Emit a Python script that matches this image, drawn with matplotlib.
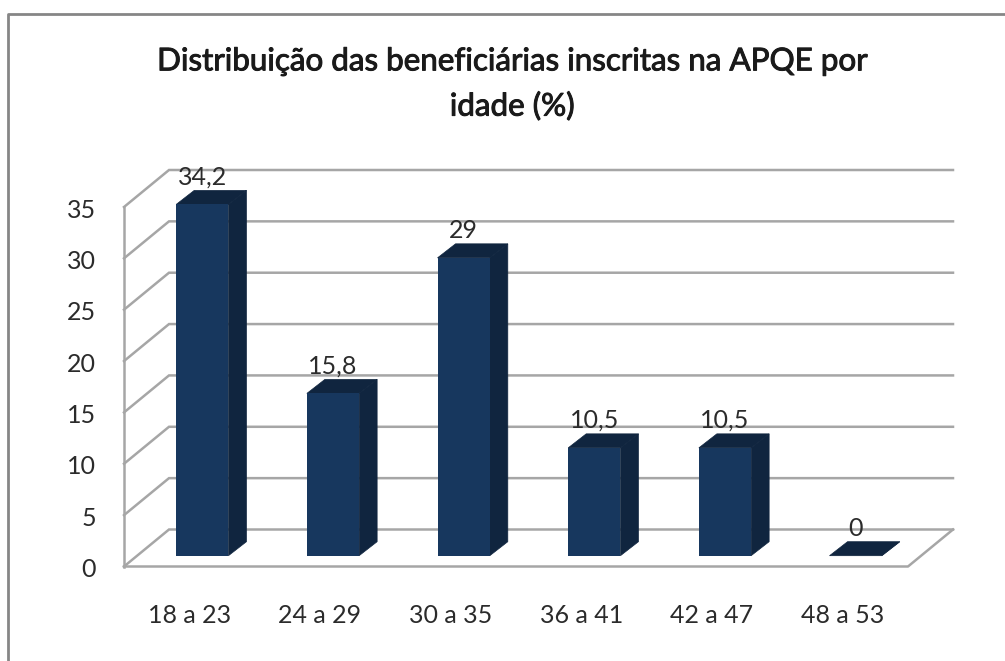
import matplotlib
matplotlib.use("Agg")
import matplotlib.pyplot as plt
import matplotlib.patheffects as pe
from matplotlib.patches import Polygon

# values
categories = ["18 a 23", "24 a 29", "30 a 35", "36 a 41", "42 a 47", "48 a 53"]
values = [34.2, 15.8, 29, 10.5, 10.5, 0]
value_labels = ["34,2", "15,8", "29", "10,5", "10,5", "0"]
yticks = [0, 5, 10, 15, 20, 25, 30, 35]
title = "Distribuição das beneficiárias inscritas na APQE por\nidade (%)"

W, H = 1005, 661
plt.rcParams["font.family"] = ["Lato", "DejaVu Sans"]

fig = plt.figure(figsize=(W / 100, H / 100), dpi=100)
fig.patch.set_facecolor("white")

# axes = front plane of the fake 3d box
left, right, top, bottom = 124, 908, 207, 566.5
ax = fig.add_axes([left / W, 1 - bottom / H, (right - left) / W, (bottom - top) / H])
ax.set_xlim(0, 6)
ax.set_ylim(0, 35)
ax.axis("off")

ux = (right - left) / 6
uy = (bottom - top) / 35
# depth offsets, in data units
wall_dx, wall_dy = 45 / ux, 37 / uy
front_dx, front_dy = 13 / ux, 10.8 / uy
bar_dx, bar_dy = 18 / ux, 14 / uy
bar_w = 0.4

grid_c = "#a6a6a6"
front_c = "#17375e"
side_c = "#10253f"
text_c = "#2b2b2b"

# walls and gridlines
for t in yticks:
    ax.plot([0, wall_dx, 6 + wall_dx], [t, t + wall_dy, t + wall_dy], c=grid_c, lw=1.8,
            clip_on=False, zorder=1, solid_joinstyle="miter")
ax.plot([0, 0], [0, 35], c=grid_c, lw=1.8, clip_on=False, zorder=1)
ax.plot([0, 6, 6 + wall_dx], [0, 0, wall_dy], c=grid_c, lw=1.8, clip_on=False, zorder=1)

# bars
xs = [i + 0.5 for i in range(len(values))]
for x, v, lab in zip(xs, values, value_labels):
    x0 = x - bar_w / 2 + front_dx
    y0 = front_dy
    x1 = x0 + bar_w
    y1 = y0 + v
    # side and top first, front bar over them
    ax.add_patch(Polygon([(x1, y0), (x1 + bar_dx, y0 + bar_dy), (x1 + bar_dx, y1 + bar_dy), (x1, y1)],
                         fc=side_c, ec=side_c, lw=0.5, zorder=3, clip_on=False))
    ax.add_patch(Polygon([(x0, y1), (x0 + bar_dx, y1 + bar_dy), (x1 + bar_dx, y1 + bar_dy), (x1, y1)],
                         fc=side_c, ec=side_c, lw=0.5, zorder=3, clip_on=False))
    ax.bar(x0, v, bar_w, bottom=y0, align="edge", color=front_c, zorder=4, clip_on=False)
    ax.text(x0 + bar_w / 2, y1 + bar_dy + 0.2, lab, ha="center", va="bottom",
            fontsize=18, color=text_c, zorder=5)

# tick labels
for t in yticks:
    ax.annotate(str(t), (0, t), xytext=(-28, -3), textcoords="offset pixels",
                ha="right", va="center", fontsize=18, color=text_c, annotation_clip=False)
for x, c in zip(xs, categories):
    ax.annotate(c, (x, 0), xytext=(0, -49), textcoords="offset pixels",
                ha="center", va="center", fontsize=18, color=text_c, annotation_clip=False)

# regular weight plus a thin stroke, the original sits between regular and bold
fig.text(512 / W, 1 - 84 / H, title, ha="center", va="center", fontsize=22.6,
         color="#1a1a1a", linespacing=1.7,
         path_effects=[pe.withStroke(linewidth=0.7, foreground="#1a1a1a")])

# chart border, left and top only reach the picture edge
fig.add_artist(plt.Line2D([7.7 / W, 7.7 / W, 1], [0, 1 - 13.7 / H, 1 - 13.7 / H], c="#868686", lw=2))

fig.savefig("out.png", dpi=100)
